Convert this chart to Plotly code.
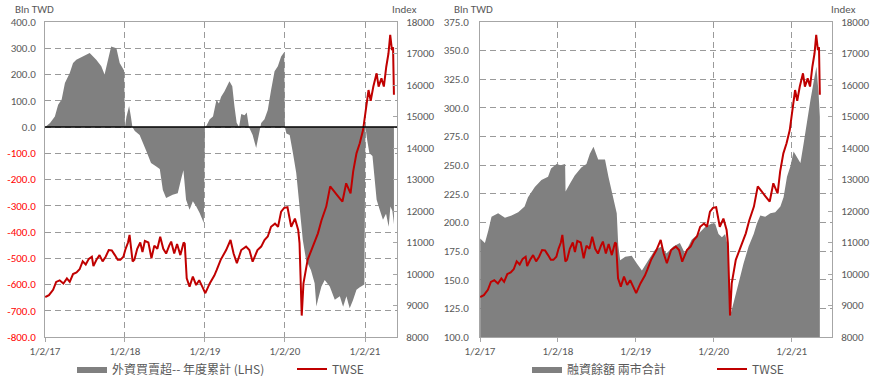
import plotly.graph_objects as go

# ---------------- data ----------------
twse_dates = ["2017-01-03","2017-01-20","2017-02-08","2017-02-22","2017-03-10","2017-03-27","2017-04-12","2017-04-25",
"2017-05-10","2017-05-26","2017-06-09","2017-06-23","2017-07-07","2017-07-21","2017-08-04","2017-08-11","2017-08-25",
"2017-09-08","2017-09-22","2017-10-06","2017-10-20","2017-11-03","2017-11-17","2017-11-30","2017-12-12","2017-12-26",
"2018-01-05","2018-01-16","2018-01-23","2018-02-06","2018-02-14","2018-02-27","2018-03-13","2018-03-23","2018-04-03",
"2018-04-19","2018-05-03","2018-05-16","2018-05-30","2018-06-12","2018-06-26","2018-07-09","2018-07-23","2018-08-01",
"2018-08-15","2018-08-28","2018-09-12","2018-09-27","2018-10-02","2018-10-11","2018-10-24","2018-11-08","2018-11-23",
"2018-12-07","2018-12-21","2019-01-04","2019-01-24","2019-02-14","2019-02-25","2019-03-15","2019-04-09","2019-04-29",
"2019-05-13","2019-05-28","2019-06-17","2019-07-09","2019-07-24","2019-08-08","2019-08-30","2019-09-16","2019-10-01",
"2019-10-16","2019-10-31","2019-11-18","2019-12-02","2019-12-16","2019-12-30","2020-01-14","2020-01-31","2020-02-17",
"2020-03-03","2020-03-09","2020-03-19","2020-03-27","2020-04-15","2020-05-08","2020-06-01","2020-06-17","2020-07-09",
"2020-07-27","2020-08-10","2020-09-02","2020-09-21","2020-10-08","2020-10-28","2020-11-09","2020-11-24","2020-12-09",
"2020-12-24","2021-01-07","2021-01-18","2021-01-28","2021-02-09","2021-02-24","2021-03-05","2021-03-18","2021-03-29",
"2021-04-09","2021-04-19","2021-04-27","2021-05-05","2021-05-10","2021-05-14"]
twse_values = [9270,9330,9500,9750,9800,9700,9860,9750,
10000,10050,10150,10400,10300,10480,10550,10250,10450,
10600,10400,10550,10760,10750,10600,10450,10450,10550,
10800,11000,11240,10400,10450,10800,11000,10700,11050,
11000,10500,10900,10800,11180,10800,10650,10900,11030,
10650,10950,10600,11000,10960,9860,9600,9920,9650,
9800,9600,9390,9700,9950,10130,10450,10760,11080,
10650,10340,10760,10870,10760,10390,10760,10870,11080,
11190,11500,11600,11500,11980,12100,12120,11500,11760,
11400,10980,8680,9700,10450,10870,11290,11700,12140,
12780,12670,12460,12300,12880,12560,13260,13830,14150,
14570,15200,15840,15500,15950,16370,15950,16210,15950,
16580,17000,17590,17110,17200,15690]

foreign_dates = ["2017-01-03","2017-01-25","2017-02-16","2017-03-03","2017-03-19","2017-04-03","2017-04-25","2017-05-10",
"2017-05-25","2017-06-25","2017-07-25","2017-08-24","2017-09-16","2017-10-01","2017-10-16","2017-10-31","2017-11-24",
"2017-12-09","2017-12-29",
"2018-01-02","2018-01-09","2018-01-21","2018-01-29","2018-02-05","2018-02-16","2018-03-10","2018-04-09","2018-05-01",
"2018-05-25","2018-06-10","2018-06-24","2018-07-09","2018-08-08","2018-08-31","2018-09-15","2018-09-26","2018-10-08",
"2018-10-24","2018-11-08","2018-11-23","2018-12-09","2018-12-28",
"2019-01-02","2019-01-09","2019-01-24","2019-02-08","2019-02-24","2019-03-07","2019-03-17","2019-04-01","2019-04-24",
"2019-05-07","2019-05-17","2019-05-27","2019-06-07","2019-06-17","2019-07-02","2019-07-12","2019-07-22","2019-08-08",
"2019-08-24","2019-08-31","2019-09-16","2019-10-01","2019-10-16","2019-10-31","2019-11-16","2019-12-01","2019-12-16",
"2019-12-30",
"2020-01-02","2020-01-09","2020-01-24","2020-02-08","2020-02-23","2020-03-09","2020-03-24","2020-04-08","2020-04-30",
"2020-05-17","2020-05-25","2020-06-01","2020-06-17","2020-07-02","2020-07-25","2020-08-17","2020-09-09","2020-09-24",
"2020-10-09","2020-10-24","2020-11-08","2020-11-24","2020-12-09","2020-12-30",
"2021-01-04","2021-01-12","2021-01-22","2021-02-05","2021-02-24","2021-03-10","2021-03-25","2021-04-08","2021-04-20",
"2021-04-28","2021-05-07","2021-05-14"]
foreign_values = [0,15,40,85,105,168,206,244,
256,269,282,256,231,200,256,307,300,
244,215,
0,40,80,40,0,-15,-30,-90,-137,
-150,-160,-240,-270,-258,-252,-200,-165,-277,
-315,-283,-302,-328,-366,
0,5,30,40,104,90,115,135,174,
155,78,16,0,50,45,55,0,-30,
-80,-50,15,30,65,140,212,231,269,
285,
0,-25,-30,-100,-175,-303,-430,-507,-545,
-595,-684,-658,-608,-583,-608,-658,-645,-685,
-645,-690,-660,-620,-610,-600,
0,-50,-100,-110,-277,-315,-353,-330,-380,
-303,-320,-370]

margin_dates = ["2017-01-03","2017-01-25","2017-02-10","2017-02-25","2017-03-28","2017-04-29","2017-05-30","2017-06-30",
"2017-07-30","2017-08-15","2017-09-16","2017-10-17","2017-11-17","2017-12-01","2017-12-27","2018-01-15","2018-02-05",
"2018-02-07","2018-02-28","2018-03-22","2018-04-22","2018-05-16","2018-06-01","2018-06-18","2018-07-10","2018-08-11",
"2018-08-27","2018-09-19","2018-10-05","2018-10-12","2018-10-21","2018-11-14","2018-12-14","2019-01-08","2019-01-31",
"2019-03-02","2019-04-02","2019-05-03","2019-05-26","2019-06-27","2019-07-28","2019-08-21","2019-09-21","2019-10-22",
"2019-11-23","2019-12-24","2020-01-09","2020-01-25","2020-02-10","2020-02-25","2020-03-09","2020-03-19","2020-04-04",
"2020-04-28","2020-05-21","2020-06-14","2020-07-08","2020-07-23","2020-08-08","2020-08-31","2020-09-24","2020-10-17",
"2020-11-10","2020-11-25","2020-12-11","2020-12-27","2021-01-11","2021-01-27","2021-02-12","2021-02-27","2021-03-15",
"2021-03-31","2021-04-16","2021-04-28","2021-05-08","2021-05-14"]
margin_values = [186,182,193,205,208,204,206,209,
214,222,231,237,240,247,251,250,251,
227,234,241,248,251,260,266,255,255,
240,220,208,180,167,170,171,164,158,
167,176,179,173,179,182,173,185,190,
196,199,199,190,187,190,179,118,129,
147,164,179,190,199,206,205,208,209,
214,222,240,249,262,257,252,269,289,
307,324,336,313,292]

year_ticks = ["2017-01-02", "2018-01-02", "2019-01-02", "2020-01-02", "2021-01-02"]
year_labels = ["1/2/17", "1/2/18", "1/2/19", "1/2/20", "1/2/21"]
left_ticks = [400, 300, 200, 100, 0, -100, -200, -300, -400, -500, -600, -700, -800]
right_ticks = [375, 350, 325, 300, 275, 250, 225, 200, 175, 150, 125, 100]
index_ticks = [8000, 9000, 10000, 11000, 12000, 13000, 14000, 15000, 16000, 17000, 18000]

name_foreign = "外資買賣超-- 年度累計 (LHS)"
name_margin = "融資餘額 兩市合計"
name_twse = "TWSE"

# ---------------- styling ----------------
GRAY = "#808080"
RED = "#c00000"
TXT = "#595959"
NEG = "#ff0000"
GRID = "#9a9a9a"
BORDER = "#a6a6a6"
DASH = "6px,4px"
FONT = "Carlito, Calibri, 'Noto Sans', sans-serif"
CJK = "'Noto Sans CJK TC', 'Noto Sans', sans-serif"

left_ticktext = [
    (f'<span style="color:{NEG}">{v:.1f}</span>' if v < 0 else f"{v:.1f}") for v in left_ticks
]

fig = go.Figure()

fig.add_trace(go.Scatter(x=foreign_dates, y=foreign_values, name=name_foreign, mode="lines",
                         fill="tozeroy", fillcolor=GRAY, line=dict(width=0, color=GRAY),
                         xaxis="x", yaxis="y", legend="legend"))
fig.add_trace(go.Scatter(x=twse_dates, y=twse_values, name=name_twse, mode="lines",
                         line=dict(width=2, color=RED), xaxis="x", yaxis="y2", legend="legend"))
fig.add_trace(go.Scatter(x=margin_dates, y=margin_values, name=name_margin, mode="lines",
                         fill="tozeroy", fillcolor=GRAY, line=dict(width=0, color=GRAY),
                         xaxis="x2", yaxis="y3", legend="legend2"))
fig.add_trace(go.Scatter(x=twse_dates, y=twse_values, name=name_twse, mode="lines",
                         line=dict(width=2, color=RED), xaxis="x2", yaxis="y4", legend="legend2"))

W, H = 896, 376
ML, MR, MT, MB = 45, 64, 22, 39
PW = W - ML - MR
PH = H - MT - MB

def px_x(p):
    return (p - ML) / PW

def px_y(p):
    return (H - MB - p) / PH

d1 = [0, px_x(397)]
d2 = [px_x(480), 1]

tickfont = dict(family=FONT, size=11, color=TXT)
xcommon = dict(type="date", tickvals=year_ticks, ticktext=year_labels, showgrid=True,
               gridcolor=GRID, griddash=DASH, gridwidth=1, showline=True, mirror=True,
               linecolor=BORDER, linewidth=1, ticks="outside", ticklen=4, tickcolor=BORDER,
               tickfont=tickfont, zeroline=False, automargin=False)

fig.update_layout(
    width=W, height=H, margin=dict(l=ML, r=MR, t=MT, b=MB, autoexpand=False),
    paper_bgcolor="white", plot_bgcolor="white", showlegend=True,
    xaxis=dict(domain=d1, range=["2017-01-02", "2021-05-28"], anchor="y", **xcommon),
    yaxis=dict(range=[-800, 400], tickvals=left_ticks, ticktext=left_ticktext, showgrid=True,
               gridcolor=GRID, griddash=DASH, zeroline=False, showline=True, linecolor=BORDER,
               tickfont=tickfont, ticks="", ticklabelstandoff=6, anchor="x", automargin=False),
    yaxis2=dict(range=[8000, 18000], tickvals=index_ticks, tickformat="d", overlaying="y", side="right",
                anchor="x", showgrid=False, zeroline=False, showline=True, linecolor=BORDER,
                ticks="inside", ticklen=4, tickcolor=BORDER, tickfont=tickfont, ticklabelstandoff=6,
                automargin=False),
    xaxis2=dict(domain=d2, range=["2017-01-02", "2021-07-10"], anchor="y3", **xcommon),
    yaxis3=dict(range=[100, 375], tickvals=right_ticks, tickformat=".1f", showgrid=True,
                gridcolor=GRID, griddash=DASH, zeroline=False, showline=True, linecolor=BORDER,
                tickfont=tickfont, ticks="", ticklabelstandoff=8, anchor="x2", automargin=False),
    yaxis4=dict(range=[8000, 18000], tickvals=index_ticks, tickformat="d", overlaying="y3", side="right",
                anchor="x2", showgrid=False, zeroline=False, showline=True, linecolor=BORDER,
                ticks="inside", ticklen=4, tickcolor=BORDER, tickfont=tickfont, ticklabelstandoff=6,
                automargin=False),
    legend=dict(orientation="h", x=px_x(72), xanchor="left", y=px_y(369), yanchor="middle",
                font=dict(family=CJK, size=12, color=TXT), entrywidth=175, entrywidthmode="pixels",
                bgcolor="rgba(0,0,0,0)"),
    legend2=dict(orientation="h", x=px_x(527), xanchor="left", y=px_y(369), yanchor="middle",
                 font=dict(family=CJK, size=12, color=TXT), entrywidth=140, entrywidthmode="pixels",
                 bgcolor="rgba(0,0,0,0)"),
)

# black zero line of the left panel, drawn above the area
fig.add_shape(type="line", xref="x domain", yref="y", x0=0, x1=1, y0=0, y1=0,
              line=dict(color="black", width=1.5), layer="above")

ann_font = dict(family=FONT, size=11, color=TXT)
for text, px, anchor in [("Bln TWD", 13, "left"), ("Index", 390, "left"),
                         ("Bln TWD", 452, "left"), ("Index", 829, "left")]:
    fig.add_annotation(text=text, xref="paper", yref="paper", x=px_x(px), y=px_y(10),
                       xanchor=anchor, yanchor="middle", showarrow=False, font=ann_font)

fig.write_html("out.html")
